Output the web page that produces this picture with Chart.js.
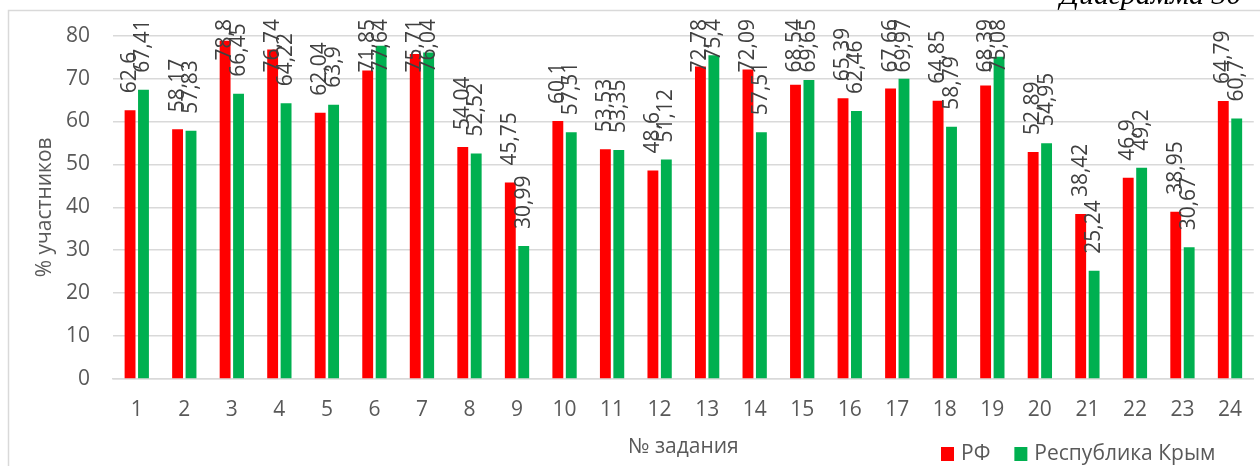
<!DOCTYPE html>
<html lang="ru">
<head>
<meta charset="utf-8">
<title>Диаграмма</title>
<script src="https://cdn.jsdelivr.net/npm/chart.js@4/dist/chart.umd.min.js"></script>
<style>
  html, body { margin: 0; padding: 0; background: #fff; }
  #wrap { position: relative; width: 1260px; height: 466px; }
</style>
</head>
<body>
<div id="wrap"><canvas id="chart"></canvas></div>
<script>
// task numbers and percentage of participants who solved each task
const tasks = ["1", "2", "3", "4", "5", "6", "7", "8", "9", "10", "11", "12",
  "13", "14", "15", "16", "17", "18", "19", "20", "21", "22", "23", "24"];
const rfValues = [62.6, 58.17, 78.8, 76.74, 62.04, 71.85, 75.71, 54.04, 45.75, 60.1, 53.53, 48.6,
  72.78, 72.09, 68.54, 65.39, 67.66, 64.85, 68.39, 52.89, 38.42, 46.9, 38.95, 64.79];
const crimeaValues = [67.41, 57.83, 66.45, 64.22, 63.9, 77.64, 76.04, 52.52, 30.99, 57.51, 53.35, 51.12,
  75.4, 57.51, 69.65, 62.46, 69.97, 58.79, 75.08, 54.95, 25.24, 49.2, 30.67, 60.7];
const yTicks = [0, 10, 20, 30, 40, 50, 60, 70, 80];

const FONT = "'Open Sans', 'Noto Sans', sans-serif";
const TEXT = "#595959";
const GRID = "#d9d9d9";

const fmt = (v) => String(v).replace(".", ",");

/* frame, caption, rotated value labels and the legend row */
const decorPlugin = {
  id: "decor",
  beforeDraw(chart) {
    const ctx = chart.ctx;
    ctx.save();
    ctx.fillStyle = "#fff";
    ctx.fillRect(0, 0, chart.width, chart.height);
    ctx.strokeStyle = GRID;
    ctx.lineWidth = 1.5;
    ctx.strokeRect(8.5, 10.5, chart.width + 20, chart.height + 20);
    ctx.fillStyle = "#000";
    ctx.font = "italic 30px 'Liberation Serif', serif";
    ctx.textBaseline = "alphabetic";
    ctx.textAlign = "left";
    ctx.fillText("Диаграмма 30", 1060, 4);
    ctx.restore();
  },
  afterDatasetsDraw(chart) {
    const ctx = chart.ctx;
    ctx.save();
    ctx.font = "21px " + FONT;
    ctx.fillStyle = "#404040";
    ctx.textAlign = "left";
    ctx.textBaseline = "middle";
    chart.data.datasets.forEach((ds, i) => {
      chart.getDatasetMeta(i).data.forEach((bar, j) => {
        const text = fmt(ds.data[j]);
        const w = ctx.measureText(text).width;
        let start = bar.y - 17;
        if (start - w < 19) start = 19 + w;
        ctx.save();
        ctx.translate(bar.x, start);
        ctx.rotate(-Math.PI / 2);
        ctx.fillText(text, 0, 0);
        ctx.restore();
      });
    });
    ctx.restore();
  },
  afterDraw(chart) {
    const ctx = chart.ctx;
    ctx.save();
    ctx.font = "21px " + FONT;
    ctx.textBaseline = "middle";
    ctx.textAlign = "left";
    let x = 941;
    chart.data.datasets.forEach((ds) => {
      ctx.fillStyle = ds.backgroundColor;
      ctx.fillRect(x, 447, 13, 14);
      ctx.fillStyle = TEXT;
      ctx.fillText(ds.label, x + 20, 454);
      x += 20 + ctx.measureText(ds.label).width + 24;
    });
    ctx.restore();
  }
};

new Chart(document.getElementById("chart"), {
  type: "bar",
  data: {
    labels: tasks,
    datasets: [
      { label: "РФ", data: rfValues, backgroundColor: "#ff0000" },
      { label: "Республика Крым", data: crimeaValues, backgroundColor: "#00b050" }
    ]
  },
  options: {
    responsive: true,
    maintainAspectRatio: false,
    animation: false,
    devicePixelRatio: 1,
    categoryPercentage: 0.565,
    barPercentage: 0.81,
    layout: { padding: { top: 33, right: 0, left: 0, bottom: 0 } },
    plugins: {
      legend: { display: false },
      tooltip: { enabled: false }
    },
    scales: {
      x: {
        grid: { display: false, drawTicks: false },
        border: { display: true, color: GRID, width: 1.5 },
        ticks: { color: TEXT, font: { family: FONT, size: 21 }, padding: 18, maxRotation: 0, autoSkip: false },
        title: { display: true, text: "№ задания", color: TEXT, font: { family: FONT, size: 21 }, padding: { bottom: 6 } },
        afterFit(scale) { scale.height = 87; }
      },
      y: {
        min: 0,
        max: 80,
        afterBuildTicks(scale) { scale.ticks = yTicks.map((v) => ({ value: v })); },
        grid: { color: GRID, lineWidth: 1.5, drawTicks: false },
        border: { display: false },
        ticks: { color: TEXT, font: { family: FONT, size: 21 }, padding: 23 },
        title: { display: true, text: "% участников", color: TEXT, font: { family: FONT, size: 21 }, padding: { top: 32 } },
        afterFit(scale) { scale.width = 113; }
      }
    }
  },
  plugins: [decorPlugin]
});
</script>
</body>
</html>
